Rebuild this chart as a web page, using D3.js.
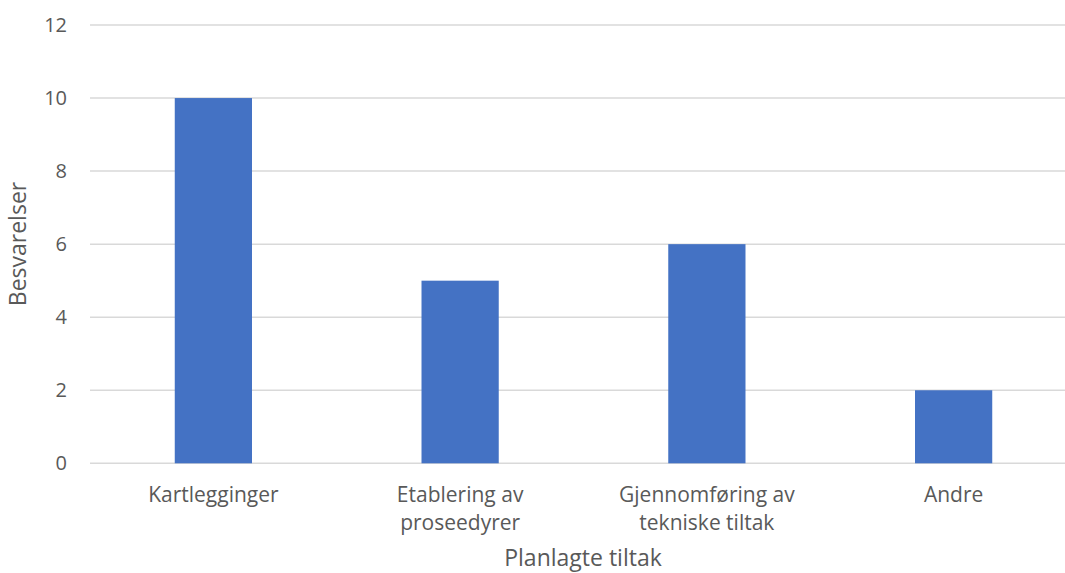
<!DOCTYPE html>
<html><head><meta charset="utf-8">
<script src="https://cdn.jsdelivr.net/npm/d3@7"></script>
<style>body{margin:0;background:#fff}svg{display:block}text{font-family:"Open Sans",sans-serif}</style>
</head><body>
<script>
const categories = [["Kartlegginger"],["Etablering av","proseedyrer"],["Gjennomføring av","tekniske tiltak"],["Andre"]];
const values = [10,5,6,2];
const yTicks = [0,2,4,6,8,10,12];
const xTitle = "Planlagte tiltak";
const yTitle = "Besvarelser";

const W=1065,H=573;
const svg=d3.select("body").append("svg").attr("width",W).attr("height",H);
const keys=categories.map(c=>c.join(" "));
const x=d3.scaleBand().domain(keys).range([90,1077]).paddingInner(0.687).paddingOuter(0.3435);
const y=d3.scaleLinear().domain([0,12]).range([463.3,25]);

// gridlines
svg.append("g").selectAll("line").data(yTicks).join("line")
 .attr("x1",90).attr("x2",W).attr("y1",d=>y(d)).attr("y2",d=>y(d))
 .attr("stroke","#d9d9d9").attr("stroke-width",1.5);

// y axis labels
const yAxis=d3.axisLeft(y).tickValues(yTicks).tickSize(0).tickPadding(0);
const ya=svg.append("g").attr("transform","translate(67,0)").call(yAxis);
ya.select(".domain").remove();
ya.selectAll("text").attr("fill","#595959").style("font-size","20px").style("font-family","'Open Sans',sans-serif");

// bars
svg.append("g").selectAll("rect").data(values).join("rect")
 .attr("x",(d,i)=>x(keys[i])).attr("width",x.bandwidth())
 .attr("y",d=>y(d)).attr("height",d=>y(0)-y(d)).attr("fill","#4472c4");

// x labels
const xl=svg.append("g").selectAll("text").data(categories).join("text")
 .attr("x",(d,i)=>x(keys[i])+x.bandwidth()/2).attr("y",502)
 .attr("text-anchor","middle").attr("fill","#595959").style("font-size","21px");
xl.each(function(d){const t=d3.select(this);d.forEach((s,j)=>t.append("tspan").attr("x",t.attr("x")).attr("dy",j?28:0).text(s));});

svg.append("text").attr("x",583).attr("y",566).attr("text-anchor","middle")
 .attr("fill","#595959").style("font-size","23px").text(xTitle);
svg.append("text").attr("transform","translate(26,244) rotate(-90)").attr("text-anchor","middle")
 .attr("fill","#595959").style("font-size","23px").text(yTitle);
</script>
</body></html>
